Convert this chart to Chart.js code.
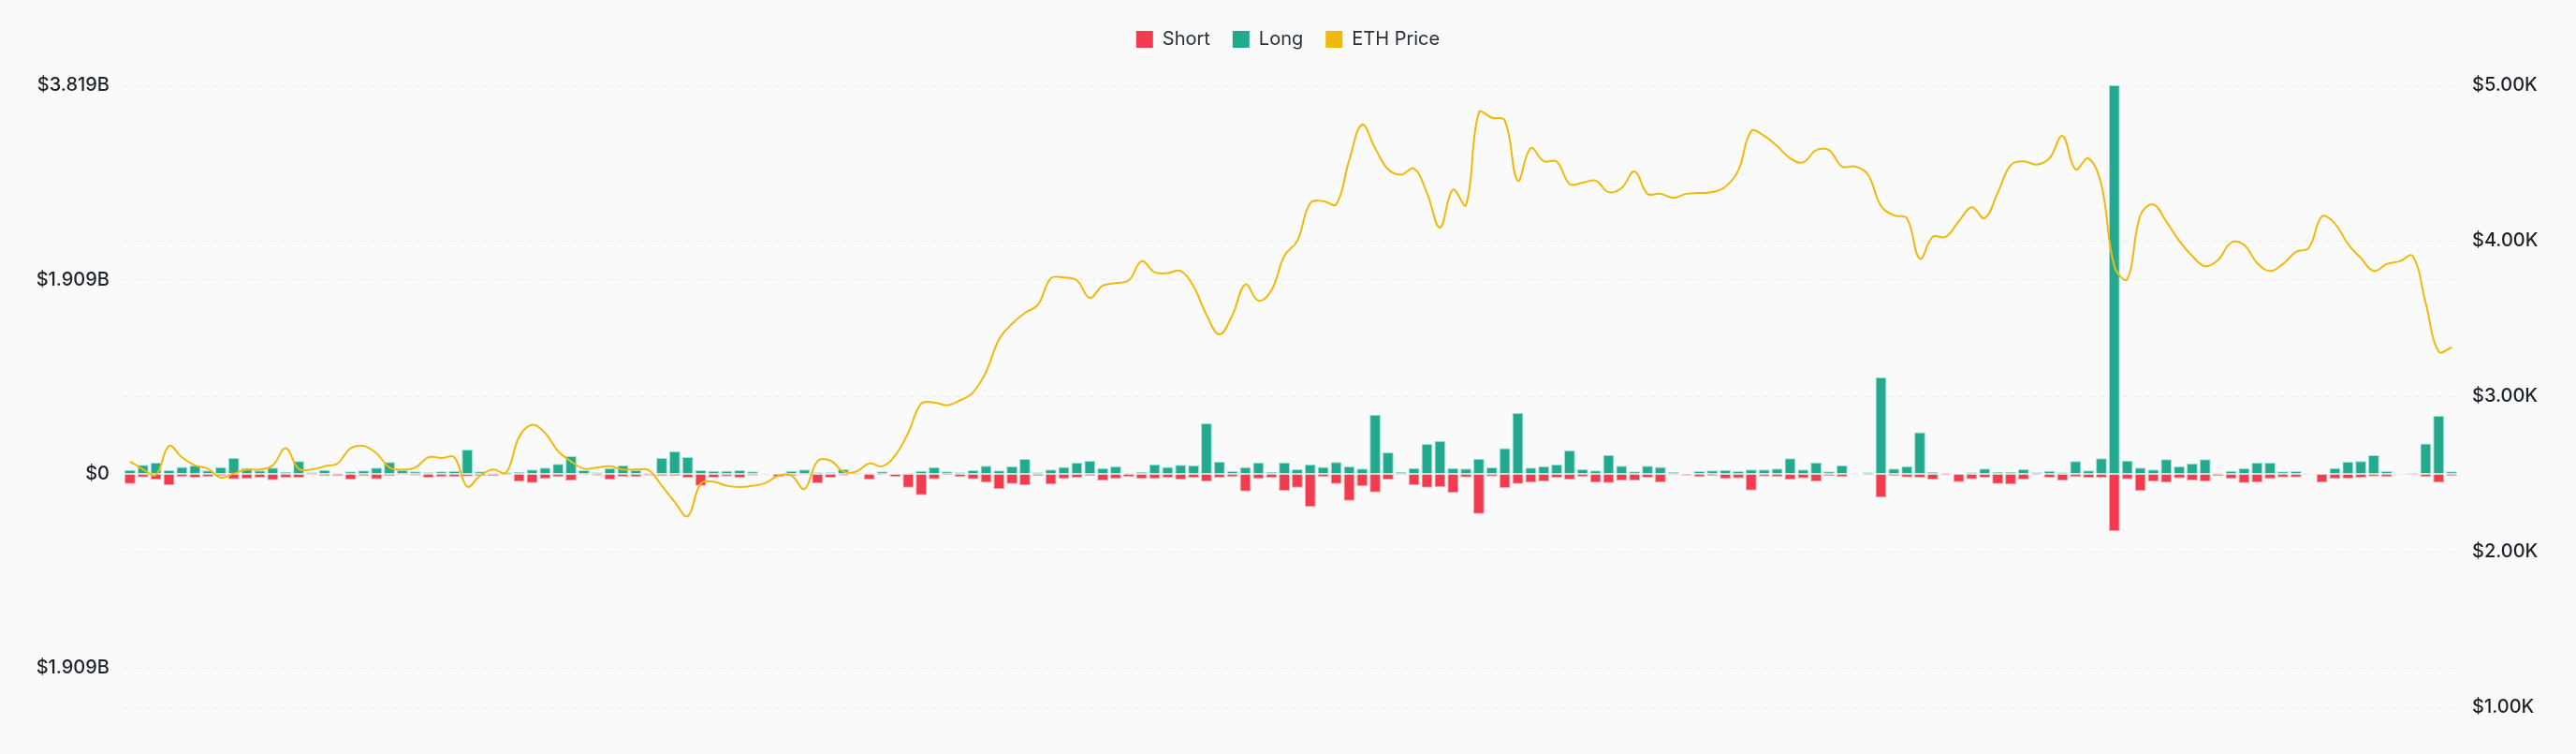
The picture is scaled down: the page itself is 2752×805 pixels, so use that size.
<!DOCTYPE html>
<html>
<head>
<meta charset="utf-8">
<script src="https://cdn.jsdelivr.net/npm/chart.js@4.4.0/dist/chart.umd.min.js"></script>
<style>
  html, body { margin: 0; padding: 0; background: #fafafa; overflow: hidden; }
  #wrap { width: 2752px; height: 805px; }
  canvas { display: block; }
</style>
</head>
<body>
<div id="wrap"><canvas id="liqChart"></canvas></div>
<script>
// daily liquidations, in billions of USD
const longLiq = [
  0.040, 0.089, 0.110, 0.037, 0.070, 0.083, 0.034, 0.067, 0.156, 0.058,
  0.034, 0.061, 0.018, 0.126, 0.015, 0.040, 0.010, 0.025, 0.034, 0.061,
  0.117, 0.037, 0.025, 0.015, 0.025, 0.028, 0.240, 0.025, 0.010, 0.015,
  0.020, 0.043, 0.061, 0.098, 0.175, 0.037, 0.015, 0.058, 0.086, 0.037,
  0.010, 0.156, 0.224, 0.166, 0.037, 0.030, 0.030, 0.037, 0.025, 0.003,
  0.005, 0.030, 0.043, 0.015, 0.015, 0.046, 0.010, 0.010, 0.025, 0.005,
  0.010, 0.030, 0.067, 0.025, 0.015, 0.037, 0.080, 0.034, 0.077, 0.147,
  0.015, 0.043, 0.070, 0.110, 0.129, 0.058, 0.077, 0.010, 0.018, 0.095,
  0.070, 0.089, 0.086, 0.497, 0.120, 0.028, 0.067, 0.113, 0.020, 0.113,
  0.046, 0.095, 0.070, 0.117, 0.074, 0.052, 0.583, 0.212, 0.020, 0.058,
  0.294, 0.325, 0.058, 0.052, 0.150, 0.064, 0.252, 0.598, 0.061, 0.077,
  0.095, 0.233, 0.046, 0.034, 0.187, 0.080, 0.025, 0.080, 0.070, 0.020,
  0.005, 0.028, 0.034, 0.040, 0.028, 0.043, 0.043, 0.052, 0.153, 0.043,
  0.113, 0.025, 0.086, 0.003, 0.015, 0.950, 0.052, 0.077, 0.410, 0.020,
  0.010, 0.005, 0.015, 0.052, 0.020, 0.020, 0.046, 0.015, 0.030, 0.015,
  0.126, 0.034, 0.153, 3.819, 0.132, 0.061, 0.043, 0.144, 0.077, 0.104,
  0.144, 0.010, 0.030, 0.055, 0.110, 0.110, 0.025, 0.028, 0.003, 0.006,
  0.058, 0.120, 0.126, 0.184, 0.028, 0.003, 0.010, 0.298, 0.570, 0.025
];

const shortLiq = [
  0.100, 0.034, 0.055, 0.110, 0.030, 0.037, 0.030, 0.020, 0.052, 0.049,
  0.037, 0.061, 0.040, 0.040, 0.010, 0.020, 0.020, 0.058, 0.020, 0.052,
  0.020, 0.010, 0.015, 0.037, 0.030, 0.030, 0.025, 0.020, 0.020, 0.010,
  0.077, 0.089, 0.049, 0.030, 0.067, 0.010, 0.015, 0.058, 0.028, 0.030,
  0.015, 0.020, 0.020, 0.040, 0.117, 0.037, 0.025, 0.040, 0.015, 0.003,
  0.030, 0.020, 0.010, 0.092, 0.037, 0.015, 0.006, 0.055, 0.010, 0.030,
  0.135, 0.210, 0.052, 0.012, 0.030, 0.052, 0.086, 0.150, 0.098, 0.113,
  0.020, 0.104, 0.049, 0.040, 0.020, 0.067, 0.049, 0.030, 0.049, 0.049,
  0.040, 0.055, 0.040, 0.074, 0.037, 0.030, 0.172, 0.049, 0.040, 0.166,
  0.135, 0.325, 0.030, 0.098, 0.264, 0.120, 0.181, 0.058, 0.010, 0.110,
  0.135, 0.129, 0.187, 0.034, 0.393, 0.025, 0.138, 0.098, 0.086, 0.074,
  0.040, 0.058, 0.028, 0.086, 0.089, 0.067, 0.067, 0.037, 0.083, 0.010,
  0.015, 0.030, 0.018, 0.049, 0.043, 0.163, 0.025, 0.028, 0.058, 0.043,
  0.074, 0.018, 0.030, 0.003, 0.010, 0.230, 0.018, 0.034, 0.037, 0.055,
  0.012, 0.080, 0.052, 0.037, 0.100, 0.104, 0.055, 0.010, 0.037, 0.067,
  0.030, 0.040, 0.037, 0.561, 0.052, 0.169, 0.074, 0.086, 0.043, 0.064,
  0.074, 0.020, 0.049, 0.089, 0.083, 0.049, 0.034, 0.034, 0.003, 0.086,
  0.049, 0.046, 0.037, 0.025, 0.030, 0.003, 0.010, 0.030, 0.086, 0.020
];

const ethPrice = [
  2581, 2530, 2494, 2680, 2607, 2555, 2534, 2476, 2502, 2528,
  2528, 2555, 2665, 2534, 2528, 2549, 2568, 2665, 2680, 2633,
  2541, 2528, 2541, 2607, 2602, 2607, 2419, 2489, 2528, 2508,
  2738, 2816, 2764, 2646, 2581, 2534, 2541, 2549, 2528, 2528,
  2523, 2424, 2319, 2228, 2437, 2450, 2424, 2416, 2424, 2442,
  2489, 2489, 2403, 2581, 2586, 2515, 2515, 2568, 2549, 2620,
  2764, 2952, 2960, 2942, 2973, 3025, 3156, 3366, 3465, 3536,
  3588, 3758, 3763, 3745, 3632, 3711, 3727, 3745, 3868, 3797,
  3792, 3805, 3706, 3523, 3397, 3523, 3719, 3614, 3680, 3902,
  3999, 4242, 4255, 4234, 4517, 4747, 4595, 4459, 4425, 4464,
  4307, 4085, 4328, 4229, 4825, 4791, 4773, 4386, 4595, 4511,
  4509, 4365, 4373, 4386, 4313, 4339, 4446, 4302, 4302, 4276,
  4302, 4307, 4313, 4347, 4451, 4705, 4674, 4608, 4530, 4504,
  4582, 4582, 4477, 4477, 4425, 4224, 4163, 4145, 3884, 4025,
  4025, 4124, 4216, 4145, 4307, 4485, 4511, 4490, 4530, 4674,
  4459, 4530, 4360, 3836, 3753, 4163, 4234, 4124, 3999, 3902,
  3836, 3876, 3988, 3973, 3857, 3805, 3850, 3928, 3954, 4156,
  4111, 3980, 3889, 3805, 3850, 3868, 3902, 3601, 3287, 3313
];

const leftTicks = [3.819, 1.909, 0, -1.909];
const leftTickLabels = ["$3.819B", "$1.909B", "$0", "$1.909B"];
const rightTicks = [5000, 4000, 3000, 2000, 1000];
const rightTickLabels = ["$5.00K", "$4.00K", "$3.00K", "$2.00K", "$1.00K"];

// one category per day (labels are not shown)
const startDay = Date.UTC(2025, 4, 19);
const days = ethPrice.map((_, i) =>
  new Date(startDay + i * 86400000).toISOString().slice(0, 10)
);

Chart.defaults.font.family = "Inter, 'Noto Sans', sans-serif";
Chart.defaults.color = "#1e2329";

const gridStyle = {
  color: "#ebebeb",
  lineWidth: 1,
  drawTicks: false,
};

// push the plot area further down below the legend
const legendGap = {
  id: "legendGap",
  beforeInit(chart) {
    const origFit = chart.legend.fit;
    chart.legend.fit = function fit() {
      origFit.bind(chart.legend)();
      this.height += 29;
    };
  },
};

const ctx = document.getElementById("liqChart").getContext("2d");
const liqChart = new Chart(ctx, {
  type: "bar",
  data: {
    labels: days,
    datasets: [
      {
        label: "Short",
        data: shortLiq.map((v) => -v),
        backgroundColor: "#f23b4e",
        borderColor: "#ffa3ad",
        borderWidth: 1,
        yAxisID: "y",
        order: 1,
      },
      {
        label: "Long",
        data: longLiq,
        backgroundColor: "#24a98f",
        borderColor: "#8fe8d4",
        borderWidth: 1,
        yAxisID: "y",
        order: 1,
      },
      {
        type: "line",
        label: "ETH Price",
        data: ethPrice,
        borderColor: "#f0b90b",
        backgroundColor: "#f0b90b",
        borderWidth: 2,
        pointRadius: 0,
        tension: 0.4,
        yAxisID: "y1",
        order: 0,
      },
    ],
  },
  options: {
    responsive: true,
    maintainAspectRatio: false,
    animation: false,
    datasets: {
      bar: {
        barPercentage: 0.85,
        categoryPercentage: 1,
      },
    },
    layout: {
      padding: { left: 0, right: 0, top: 8, bottom: 50 },
    },
    scales: {
      x: {
        display: false,
        stacked: true,
      },
      y: {
        position: "left",
        stacked: true,
        min: -2.2914,
        max: 3.819,
        afterBuildTicks: (axis) => {
          axis.ticks = leftTicks.map((v) => ({ value: v }));
        },
        afterFit: (axis) => {
          axis.width = 132;
        },
        ticks: {
          padding: 15,
          font: { size: 20, weight: 500 },
          color: "#1e2329",
          callback: (value, index) => leftTickLabels[index],
        },
        grid: gridStyle,
        border: { display: false, dash: [6, 6] },
      },
      y1: {
        position: "right",
        min: 1000,
        max: 5000,
        afterBuildTicks: (axis) => {
          axis.ticks = rightTicks.map((v) => ({ value: v }));
        },
        afterFit: (axis) => {
          axis.width = 126;
        },
        ticks: {
          padding: 15,
          font: { size: 20, weight: 500 },
          color: "#1e2329",
          callback: (value, index) => rightTickLabels[index],
        },
        grid: gridStyle,
        border: { display: false, dash: [6, 6] },
      },
    },
    plugins: {
      tooltip: { enabled: false },
      legend: {
        display: true,
        position: "top",
        labels: {
          boxWidth: 18,
          boxHeight: 18,
          padding: 24,
          color: "#2b3139",
          font: { size: 20 },
          sort: (a, b) => a.datasetIndex - b.datasetIndex,
          generateLabels: (chart) =>
            Chart.defaults.plugins.legend.labels
              .generateLabels(chart)
              .map((item) => ({ ...item, lineWidth: 0, strokeStyle: item.fillStyle })),
        },
      },
    },
  },
  plugins: [legendGap],
});
</script>
</body>
</html>
